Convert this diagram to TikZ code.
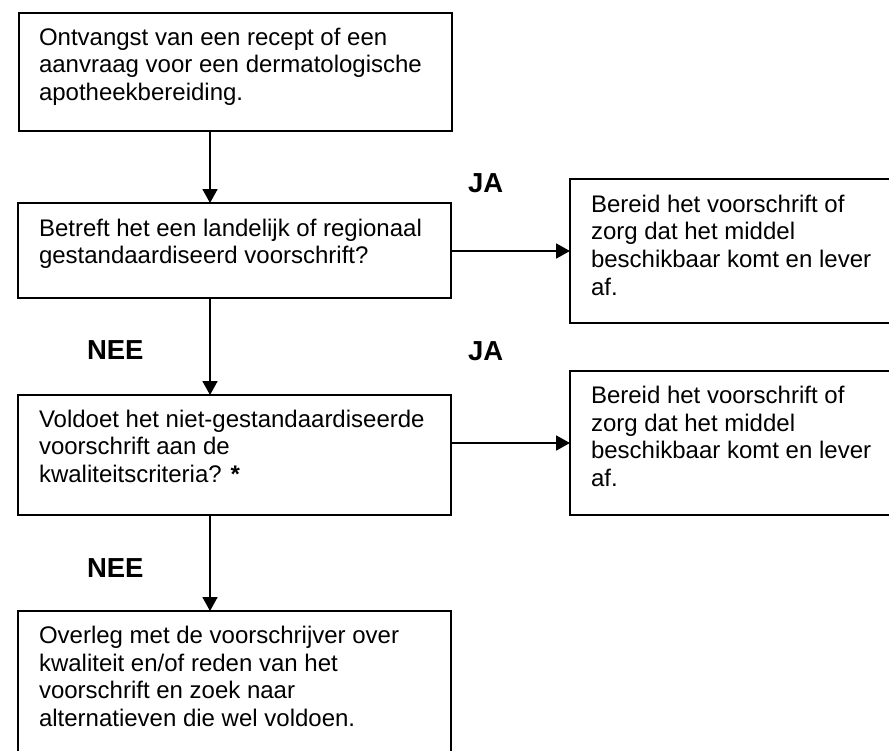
\documentclass[tikz,border=0pt]{standalone}
\usepackage{fontspec}
\setmainfont{Liberation Sans}
\usetikzlibrary{arrows.meta}
\tikzset{
  box/.style={draw=black, line width=1.8pt, rectangle, inner sep=0pt, outer sep=0pt, anchor=north west},
  txt/.style={anchor=base west, inner sep=0pt, outer sep=0pt, align=left, font=\fontsize{24}{27.8}\selectfont},
  lbl/.style={anchor=base west, inner sep=0pt, outer sep=0pt, font=\fontsize{27.5}{30}\selectfont\bfseries},
  conn/.style={draw=black, line width=1.8pt, -{Triangle[length=14pt,width=15pt]}},
}
\begin{document}
\begin{tikzpicture}[x=1pt,y=-1pt]
\useasboundingbox (0,0) rectangle (889,750);
\clip (0,0) rectangle (889,750);
\fill[white] (0,0) rectangle (889,750);
% boxes
\node[box, minimum width=433pt, minimum height=118pt] (b1) at (19,13) {};
\node[box, minimum width=433pt, minimum height=95pt] (b2) at (18,203) {};
\node[box, minimum width=433pt, minimum height=120pt] (b3) at (18,395) {};
\node[box, minimum width=433pt, minimum height=160pt] (b4) at (18,611) {};
\node[box, minimum width=340pt, minimum height=144pt] (rA) at (570,179) {};
\node[box, minimum width=340pt, minimum height=144pt] (rB) at (570,371) {};
% texts (anchored at the baseline of the last line)
\node[txt] (t1) at (39,100.6) {Ontvangst van een recept of een\\aanvraag voor een dermatologische\\apotheekbereiding.};
\node[txt] (t2) at (39,263.8) {Betreft het een landelijk of regionaal\\gestandaardiseerd voorschrift?};
\node[txt] (t3) at (39,482.6) {Voldoet het niet-gestandaardiseerde\\voorschrift aan de\\kwaliteitscriteria? \textbf{*}};
\node[txt] (t4) at (39,726.6) {Overleg met de voorschrijver over\\kwaliteit en/of reden van het\\voorschrift en zoek naar\\alternatieven die wel voldoen.};
\node[txt] (tA) at (591,295.4) {Bereid het voorschrift of\\zorg dat het middel\\beschikbaar komt en lever\\af.};
\node[txt] (tB) at (591,486.6) {Bereid het voorschrift of\\zorg dat het middel\\beschikbaar komt en lever\\af.};
% labels
\node[lbl] (ja1) at (468,192) {JA};
\node[lbl] (ja2) at (468,360) {JA};
\node[lbl] (nee1) at (87,359) {NEE};
\node[lbl] (nee2) at (87,577) {NEE};
% connectors
\draw[conn] (b1.south -| 210,0) -- (b2.north -| 210,0);
\draw[conn] (b2.south -| 210,0) -- (b3.north -| 210,0);
\draw[conn] (b3.south -| 210,0) -- (b4.north -| 210,0);
\draw[conn] (b2.east |- rA.west) -- (rA.west);
\draw[conn] (b3.east |- rB.west) -- (rB.west);
\end{tikzpicture}
\end{document}
